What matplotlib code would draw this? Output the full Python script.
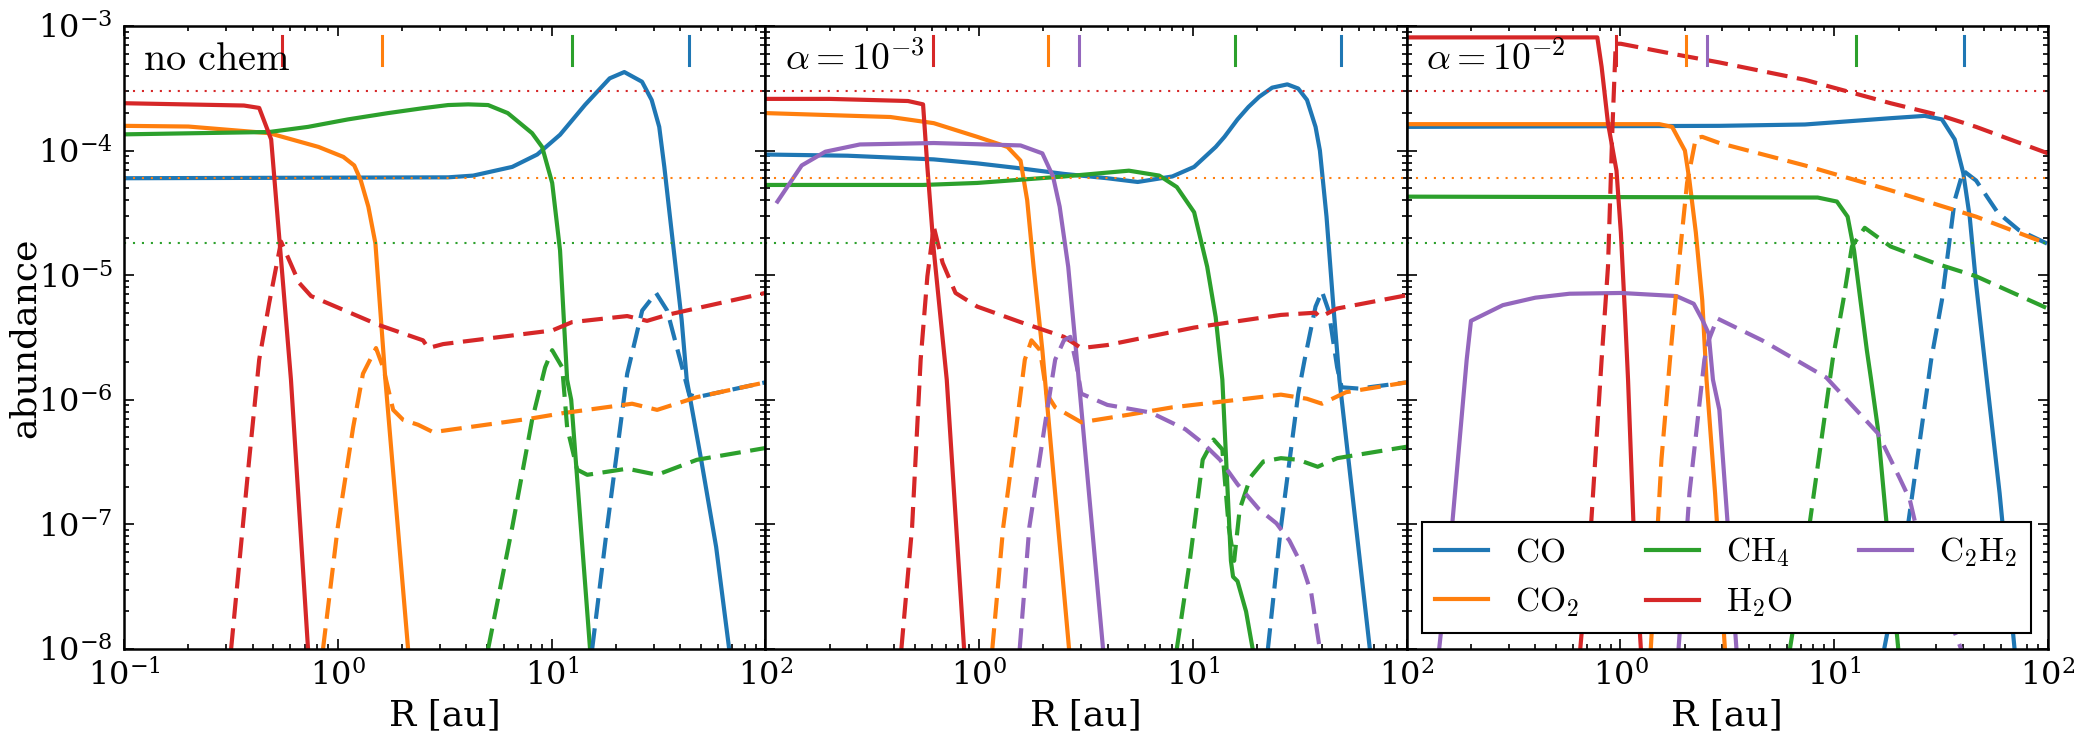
import numpy as np
import matplotlib
matplotlib.use("Agg")
import matplotlib.pyplot as plt

plt.rcParams['font.family'] = ['DejaVu Serif']
plt.rcParams['mathtext.fontset'] = 'cm'
plt.rcParams['axes.unicode_minus'] = False

C_CO, C_CO2, C_CH4, C_H2O, C_C2H2 = '#1f77b4', '#ff7f0e', '#2ca02c', '#d62728', '#9467bd'

# reference (total) abundances, dotted lines
ref_h2o, ref_co2, ref_ch4 = 3e-4, 6e-5, 1.8e-5

# ---------------- panel 1: no chem ----------------
r1_co = [0.1, 3.28, 4.30, 6.55, 8.57, 10.96, 14.35, 18.7, 21.9, 26.5, 29.4, 31.9, 33.7, 36.5, 40.6, 42.9, 50.12, 58.88, 67.76]
co_1 = [6.0e-5, 6.1e-5, 6.3e-5, 7.4e-5, 9.3e-5, 1.34e-4, 2.33e-4, 3.8e-4, 4.27e-4, 3.57e-4, 2.55e-4, 1.55e-4, 7.4e-5, 2.2e-5, 4.4e-6, 1.45e-6, 3.3e-7, 6.6e-8, 1e-8]
r1_co2 = [0.1, 0.2, 0.478, 0.813, 1.062, 1.194, 1.28, 1.39, 1.50, 1.67, 2.133]
co2_1 = [1.58e-4, 1.56e-4, 1.38e-4, 1.07e-4, 8.9e-5, 7.6e-5, 5.8e-5, 3.55e-5, 1.8e-5, 1.45e-6, 1e-8]
r1_ch4 = [0.1, 0.478, 0.726, 1.117, 1.72, 2.506, 3.28, 4.074, 5.05, 6.24, 8.11, 9.036, 10.07, 10.96, 11.83, 12.36, 15.14]
ch4_1 = [1.35e-4, 1.41e-4, 1.55e-4, 1.78e-4, 2.0e-4, 2.19e-4, 2.32e-4, 2.35e-4, 2.32e-4, 2.0e-4, 1.38e-4, 1.07e-4, 5.5e-5, 1.58e-5, 1.45e-6, 1e-6, 1e-8]
r1_h2o = [0.1, 0.364, 0.429, 0.488, 0.604, 0.726]
h2o_1 = [2.4e-4, 2.3e-4, 2.2e-4, 1.23e-4, 1.45e-6, 1e-8]

r1_co_g = [15.49, 18.2, 22.59, 26.55, 30.83, 34.75, 40.83, 44.06, 47.86, 100]
co_g1 = [1e-8, 9.5e-8, 1.62e-6, 5.2e-6, 7.2e-6, 5.2e-6, 1.82e-6, 1.1e-6, 1.05e-6, 1.38e-6]
r1_co2_g = [0.853, 1.0, 1.18, 1.312, 1.51, 1.63, 1.816, 2.023, 2.377, 2.793, 8.11, 11.22, 23.82, 31.19, 47.86, 100]
co2_g1 = [1e-8, 9.5e-8, 6.0e-7, 1.62e-6, 2.6e-6, 1.82e-6, 8.3e-7, 6.9e-7, 6.3e-7, 5.5e-7, 7.1e-7, 7.8e-7, 9.3e-7, 8.3e-7, 1.05e-6, 1.38e-6]
r1_ch4_g = [5.05, 6.55, 8.11, 9.33, 10.07, 11.22, 11.83, 13.18, 14.69, 22.59, 31.19, 47.86, 100]
ch4_g1 = [1e-8, 9.5e-8, 6.9e-7, 1.82e-6, 2.5e-6, 1.82e-6, 6.0e-7, 2.75e-7, 2.5e-7, 2.8e-7, 2.5e-7, 3.3e-7, 4.1e-7]
r1_h2o_g = [0.317, 0.385, 0.429, 0.478, 0.543, 0.659, 0.75, 1.545, 2.506, 2.649, 3.112, 10.07, 12.47, 22.59, 27.99, 34.67, 100]
h2o_g1 = [1e-8, 3.3e-7, 2.1e-6, 6.0e-6, 1.86e-5, 8.7e-6, 6.8e-6, 4.0e-6, 3.0e-6, 2.6e-6, 2.8e-6, 3.6e-6, 4.2e-6, 4.7e-6, 4.3e-6, 4.8e-6, 7.2e-6]

snow_1 = {'H2O': 0.548, 'CO2': 1.61, 'CH4': 12.5, 'CO': 44.0}

# ---------------- panel 2: alpha = 1e-3 ----------------
r2_co = [0.1, 0.242, 0.614, 0.98, 1.563, 2.495, 3.981, 5.521, 8.017, 10.14, 12.79, 14.06, 16.18, 18.2, 20.42, 23.5, 27.67, 31.1, 34.2, 37.5, 39.3, 42.2, 45.2, 48.5, 67.3]
co_2 = [9.3e-5, 9.1e-5, 8.5e-5, 7.9e-5, 7.2e-5, 6.5e-5, 6.0e-5, 5.6e-5, 6.2e-5, 7.4e-5, 1.07e-4, 1.29e-4, 1.78e-4, 2.24e-4, 2.7e-4, 3.2e-4, 3.4e-4, 3.15e-4, 2.55e-4, 1.55e-4, 1.0e-4, 2.95e-5, 6.3e-6, 1.45e-6, 1e-8]
r2_co2 = [0.1, 0.385, 0.614, 0.98, 1.358, 1.563, 1.679, 1.799, 1.977, 2.636]
co2_2 = [2.0e-4, 1.86e-4, 1.66e-4, 1.29e-4, 1.07e-4, 8.3e-5, 4.0e-5, 1.17e-5, 2.5e-6, 1e-8]
r2_ch4 = [0.1, 0.547, 0.98, 2.495, 5.023, 6.966, 8.414, 10.14, 11.67, 12.79, 13.74, 15.07, 15.42, 16.18, 17.74, 19.05]
ch4_2 = [5.3e-5, 5.3e-5, 5.5e-5, 6.2e-5, 6.9e-5, 6.3e-5, 5.1e-5, 3.2e-5, 1.17e-5, 4.6e-6, 1.45e-6, 5.1e-8, 3.8e-8, 3.5e-8, 2.0e-8, 1e-8]
r2_h2o = [0.1, 0.2, 0.465, 0.547, 0.573, 0.614, 0.706, 0.851]
h2o_2 = [2.6e-4, 2.6e-4, 2.5e-4, 2.35e-4, 7.4e-5, 1.58e-5, 1.45e-6, 1e-8]
r2_c2h2 = [0.114, 0.148, 0.191, 0.277, 0.614, 1.563, 1.977, 2.218, 2.382, 2.612, 2.897, 3.802]
c2h2_2 = [3.9e-5, 7.6e-5, 9.8e-5, 1.12e-4, 1.15e-4, 1.10e-4, 9.5e-5, 6.2e-5, 3.55e-5, 1.17e-5, 1.74e-6, 1e-8]

r2_co_g = [22.44, 25.82, 31.12, 33.34, 37.5, 40.18, 43.15, 47.32, 49.66, 59.84, 100]
co_g2 = [1e-8, 9.5e-8, 1.12e-6, 2.1e-6, 5.6e-6, 7.4e-6, 5.2e-6, 1.82e-6, 1.26e-6, 1.23e-6, 1.38e-6]
r2_co2_g = [1.153, 1.297, 1.493, 1.637, 1.758, 1.928, 2.07, 2.27, 3.006, 5.035, 8.017, 16.18, 25.82, 34.12, 40.18, 52.0, 100]
co2_g2 = [1e-8, 9.5e-8, 6.0e-7, 2.1e-6, 3.0e-6, 2.5e-6, 1.12e-6, 8.7e-7, 6.6e-7, 7.6e-7, 8.7e-7, 1.0e-6, 1.1e-6, 1.02e-6, 9.3e-7, 1.15e-6, 1.38e-6]
r2_ch4_g = [8.41, 9.68, 11.12, 12.5, 13.74, 14.72, 15.6, 16.56, 18.62, 21.38, 25.82, 31.12, 38.37, 47.32, 100]
ch4_g2 = [1e-8, 5.1e-8, 3.3e-7, 4.8e-7, 4.0e-7, 9.5e-8, 5.1e-8, 1.32e-7, 2.4e-7, 3.2e-7, 3.4e-7, 3.3e-7, 2.9e-7, 3.4e-7, 4.2e-7]
r2_h2o_g = [0.433, 0.486, 0.533, 0.573, 0.614, 0.675, 0.776, 0.98, 1.563, 2.495, 3.006, 3.981, 10.14, 25.82, 37.5, 39.26, 47.3, 100]
h2o_g2 = [1e-8, 9.5e-8, 2.1e-6, 9.8e-6, 2.45e-5, 1.26e-5, 7.2e-6, 5.6e-6, 4.2e-6, 3.2e-6, 2.6e-6, 2.75e-6, 3.8e-6, 4.8e-6, 5.0e-6, 4.6e-6, 5.4e-6, 6.9e-6]
r2_c2h2_g = [1.549, 1.718, 2.023, 2.27, 2.495, 2.673, 2.871, 3.006, 3.981, 6.353, 9.226, 11.12, 13.4, 16.18, 20.42, 24.6, 28.31, 32.58, 35.81, 39.26]
c2h2_g2 = [1e-8, 9.5e-8, 6.0e-7, 2.1e-6, 3.0e-6, 3.2e-6, 1.82e-6, 1.12e-6, 9.1e-7, 7.9e-7, 5.8e-7, 4.5e-7, 3.3e-7, 2.1e-7, 1.32e-7, 1.02e-7, 7.4e-8, 4.6e-8, 2.8e-8, 1e-8]

snow_2 = {'H2O': 0.61, 'CO2': 2.09, 'C2H2': 2.94, 'CH4': 15.8, 'CO': 49.5}

# ---------------- panel 3: alpha = 1e-2 ----------------
r3_co = [0.1, 2.904, 7.295, 18.37, 26.55, 31.92, 36.64, 40.18, 43.05, 46.13, 51.76, 59.43, 69.82]
co_3 = [1.55e-4, 1.58e-4, 1.62e-4, 1.82e-4, 1.9e-4, 1.78e-4, 1.23e-4, 6.6e-5, 2.95e-5, 8.5e-6, 1.45e-6, 1.78e-7, 1e-8]
r3_co2 = [0.1, 1.521, 1.746, 2.004, 2.104, 2.254, 2.415, 2.529, 2.773, 3.083]
co2_3 = [1.63e-4, 1.63e-4, 1.55e-4, 1.0e-4, 5.75e-5, 2.2e-5, 6.3e-6, 1.45e-6, 1.78e-7, 1e-8]
r3_ch4 = [0.1, 8.375, 10.3, 11.56, 12.39, 13.27, 14.22, 14.89, 15.99, 17.54, 19.95]
ch4_3 = [4.27e-5, 4.2e-5, 3.9e-5, 2.95e-5, 1.58e-5, 6.3e-6, 2.5e-6, 1.45e-6, 6.0e-7, 1.07e-7, 1e-8]
r3_h2o = [0.1, 0.78, 0.817, 0.875, 0.959, 1.005, 1.052, 1.086, 1.153, 1.247]
h2o_3 = [8.1e-4, 8.1e-4, 4.7e-4, 1.66e-4, 6.9e-5, 2.2e-5, 4.7e-6, 1.45e-6, 9.5e-8, 1e-8]
r3_c2h2 = [0.142, 0.163, 0.191, 0.2, 0.282, 0.4, 0.578, 1.005, 1.828, 2.203, 2.415, 2.588, 2.71, 2.904, 3.184, 3.491]
c2h2_3 = [1e-8, 9.5e-8, 2.1e-6, 4.3e-6, 5.75e-6, 6.6e-6, 7.1e-6, 7.2e-6, 6.8e-6, 5.9e-6, 4.4e-6, 3.4e-6, 1.45e-6, 8.3e-7, 9.5e-8, 1e-8]

r3_co_g = [17.14, 22.08, 28.44, 31.92, 36.64, 40.18, 46.13, 58.07, 73.11, 100]
co_g3 = [1e-8, 9.5e-8, 2.1e-6, 6.3e-6, 4.0e-5, 6.9e-5, 5.75e-5, 3.2e-5, 2.3e-5, 1.78e-5]
r3_co2_g = [1.387, 1.556, 1.706, 1.871, 2.051, 2.254, 2.415, 2.904, 7.295, 18.37, 46.13, 100]
co2_g3 = [1e-8, 3.3e-7, 2.1e-6, 1.17e-5, 5.5e-5, 1.26e-4, 1.29e-4, 1.15e-4, 7.6e-5, 4.8e-5, 2.95e-5, 1.78e-5]
r3_ch4_g = [6.21, 7.64, 9.84, 11.04, 12.11, 13.9, 18.37, 29.11, 46.13, 100]
ch4_g3 = [1e-8, 9.5e-8, 2.1e-6, 6.3e-6, 1.7e-5, 2.4e-5, 1.7e-5, 1.26e-5, 9.8e-6, 5.4e-6]
r3_h2o_g = [0.649, 0.728, 0.817, 0.875, 0.916, 0.951, 1.005, 1.828, 2.904, 7.295, 18.37, 31.92, 46.13, 100]
h2o_g3 = [1e-8, 9.5e-8, 2.1e-6, 1.17e-5, 1.38e-4, 7.2e-4, 7.2e-4, 5.9e-4, 5.1e-4, 3.7e-4, 2.4e-4, 1.9e-4, 1.55e-4, 9.5e-5]
r3_c2h2_g = [1.871, 2.104, 2.472, 2.588, 2.838, 4.603, 9.183, 15.99, 20.14, 22.59, 24.21, 29.11, 39.26]
c2h2_g3 = [1e-8, 1.78e-7, 2.1e-6, 3.0e-6, 4.5e-6, 3.0e-6, 1.51e-6, 5.4e-7, 2.4e-7, 1.58e-7, 9.5e-8, 3.8e-8, 1e-8]

snow_3 = {'H2O': 0.95, 'CO2': 2.02, 'C2H2': 2.54, 'CH4': 12.6, 'CO': 40.4}

colors = {'CO': C_CO, 'CO2': C_CO2, 'CH4': C_CH4, 'H2O': C_H2O, 'C2H2': C_C2H2}
labels = {'CO': r'$\mathrm{CO}$', 'CO2': r'$\mathrm{CO_2}$', 'CH4': r'$\mathrm{CH_4}$',
          'H2O': r'$\mathrm{H_2O}$', 'C2H2': r'$\mathrm{C_2H_2}$'}
species = ['CO', 'CO2', 'CH4', 'H2O', 'C2H2']

panels = [
    (r'$\mathrm{no\ chem}$', 29,
     {'CO': (r1_co, co_1), 'CO2': (r1_co2, co2_1), 'CH4': (r1_ch4, ch4_1), 'H2O': (r1_h2o, h2o_1)},
     {'CO': (r1_co_g, co_g1), 'CO2': (r1_co2_g, co2_g1), 'CH4': (r1_ch4_g, ch4_g1), 'H2O': (r1_h2o_g, h2o_g1)},
     snow_1),
    (r'$\alpha = 10^{-3}$', 27,
     {'CO': (r2_co, co_2), 'CO2': (r2_co2, co2_2), 'CH4': (r2_ch4, ch4_2), 'H2O': (r2_h2o, h2o_2), 'C2H2': (r2_c2h2, c2h2_2)},
     {'CO': (r2_co_g, co_g2), 'CO2': (r2_co2_g, co2_g2), 'CH4': (r2_ch4_g, ch4_g2), 'H2O': (r2_h2o_g, h2o_g2), 'C2H2': (r2_c2h2_g, c2h2_g2)},
     snow_2),
    (r'$\alpha = 10^{-2}$', 27,
     {'CO': (r3_co, co_3), 'CO2': (r3_co2, co2_3), 'CH4': (r3_ch4, ch4_3), 'H2O': (r3_h2o, h2o_3), 'C2H2': (r3_c2h2, c2h2_3)},
     {'CO': (r3_co_g, co_g3), 'CO2': (r3_co2_g, co2_g3), 'CH4': (r3_ch4_g, ch4_g3), 'H2O': (r3_h2o_g, h2o_g3), 'C2H2': (r3_c2h2_g, c2h2_g3)},
     snow_3),
]

xticks = [0.1, 1, 10, 100]
xticklabels = [r'$\mathdefault{10^{-1}}$', r'$\mathdefault{10^{0}}$', r'$\mathdefault{10^{1}}$', r'$\mathdefault{10^{2}}$']
yticks = [1e-8, 1e-7, 1e-6, 1e-5, 1e-4, 1e-3]
yticklabels = [r'$\mathdefault{10^{-%d}}$' % k for k in range(8, 2, -1)]

fig = plt.figure(figsize=(20.91, 7.47), dpi=100)
axes = fig.subplots(1, 3, sharey=True)
fig.subplots_adjust(left=0.0593, right=0.9794, bottom=0.1312, top=0.9652, wspace=0)

lw = 3.0
dash = (0, (5, 2.3))
for i, (ax, (title, tsize, solid, gas, snow)) in enumerate(zip(axes, panels)):
    ax.set_xscale('log')
    ax.set_yscale('log')
    for sp in species:
        if sp in solid:
            r, a = solid[sp]
            ax.plot(r, a, color=colors[sp], lw=lw, label=labels[sp])
    for sp in species:
        if sp in gas:
            r, a = gas[sp]
            ax.plot(r, a, color=colors[sp], lw=lw, ls=dash)
    for val, c in [(ref_h2o, C_H2O), (ref_co2, C_CO2), (ref_ch4, C_CH4)]:
        ax.axhline(val, color=c, lw=1.5, ls=(0, (1, 3.3)))
    for sp, r in snow.items():
        ax.axvline(r, ymin=0.937, ymax=0.984, color=colors[sp], lw=2.2)
    ax.text(0.03, 0.93, title, transform=ax.transAxes, fontsize=tsize, va='baseline')

    ax.set_xlim(0.1, 100)
    ax.set_ylim(1e-8, 1e-3)
    ax.set_xticks(xticks)
    if i == 0:
        ax.set_xticklabels(xticklabels)
    else:
        ax.set_xticklabels([''] + xticklabels[1:])
    ax.set_yticks(yticks)
    ax.set_yticklabels(yticklabels)
    ax.tick_params(which='both', direction='in', top=True, right=True, labelsize=23, pad=8, width=1.2)
    ax.tick_params(which='major', length=7)
    ax.tick_params(which='minor', length=3.5)
    if i > 0:
        ax.tick_params(labelleft=False)
    for s in ax.spines.values():
        s.set_linewidth(1.8)
    ax.set_xlabel('R [au]', fontsize=26, labelpad=4)

axes[0].set_ylabel('abundance', fontsize=26)
axes[0].yaxis.set_label_coords(-0.128, 0.5)

# legend with solid-line handles only
h, l = axes[2].get_legend_handles_labels()
hl = dict(zip(l, h))
order = [labels[s] for s in species]
leg = axes[2].legend([hl[k] for k in order], order, ncol=3, loc='lower right',
                     bbox_to_anchor=(0.973, 0.026), borderaxespad=0, fontsize=24,
                     handlelength=1.6, handletextpad=0.8, columnspacing=2.0,
                     fancybox=False, framealpha=1, edgecolor='black')
leg.get_frame().set_linewidth(1.5)

fig.savefig('out.png', dpi=100)
